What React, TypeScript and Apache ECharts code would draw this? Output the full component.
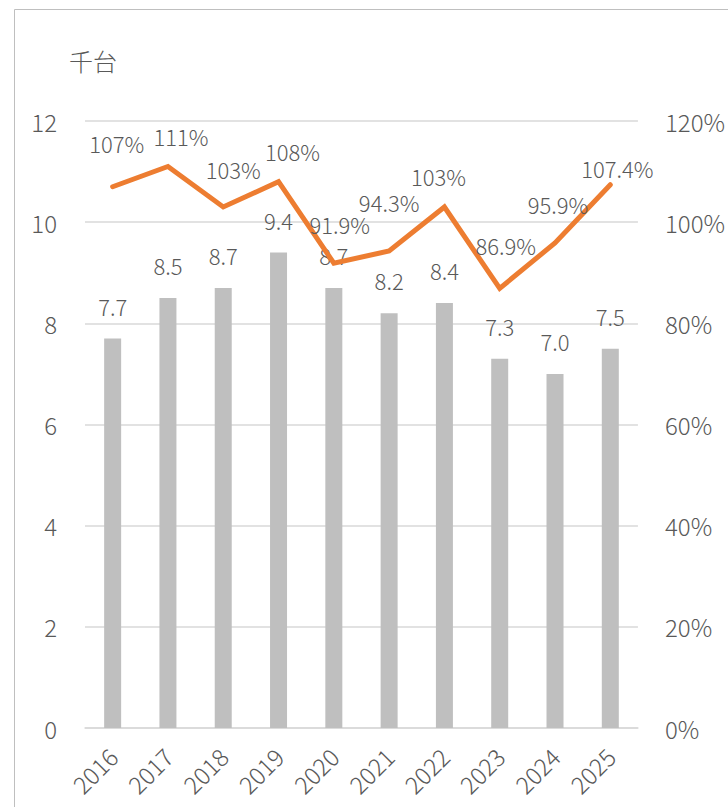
import React, { useEffect, useRef } from "react";
import * as echarts from "echarts";

const years = ["2016", "2017", "2018", "2019", "2020", "2021", "2022", "2023", "2024", "2025"];
const units = [7.7, 8.5, 8.7, 9.4, 8.7, 8.2, 8.4, 7.3, 7.0, 7.5];
const ratio = [107, 111, 103, 108, 91.9, 94.3, 103, 86.9, 95.9, 107.4];
const ratioLabels = ["107%", "111%", "103%", "108%", "91.9%", "94.3%", "103%", "86.9%", "95.9%", "107.4%"];
const ratioLabelOffsets: [number, number][] = [
  [4, -44], [13, -31], [10, -38], [14, -31], [6, -39],
  [0, -49], [-6, -31], [6, -43], [3, -39], [7, -17],
];
const leftTicks = [0, 12, 2];
const rightTicks = [0, 120, 20];
const unitLabel = "千台";

const FONT = "'Noto Sans CJK JP', 'Noto Sans', sans-serif";
const TEXT = "#595959";
const W = 300;

export default function App() {
  const ref = useRef<HTMLDivElement>(null);
  useEffect(() => {
    if (!ref.current) return;
    const chart = echarts.init(ref.current, undefined, { renderer: "svg" });
    chart.setOption({
      animation: false,
      textStyle: { fontFamily: FONT, fontWeight: W },
      grid: { left: 85, right: 90, top: 121, bottom: 79, containLabel: false },
      graphic: [
        {
          type: "rect",
          shape: { x: 14.5, y: 9.5, width: 900, height: 900 },
          style: { fill: "none", stroke: "#BFBFBF", lineWidth: 1 },
          silent: true,
        },
        {
          type: "text",
          x: 69,
          y: 48,
          style: { text: unitLabel, fontSize: 24, fill: TEXT, fontFamily: FONT, fontWeight: W },
        },
      ],
      xAxis: {
        type: "category",
        data: years,
        axisTick: { show: false },
        axisLine: { lineStyle: { color: "#D9D9D9", width: 1.5 } },
        axisLabel: { rotate: 45, fontSize: 24, color: TEXT, margin: 24, fontFamily: FONT, fontWeight: W },
      },
      yAxis: [
        {
          type: "value",
          min: leftTicks[0],
          max: leftTicks[1],
          interval: leftTicks[2],
          axisLine: { show: false },
          axisTick: { show: false },
          axisLabel: { fontSize: 24, color: TEXT, margin: 28, fontFamily: FONT, fontWeight: W },
          splitLine: { lineStyle: { color: "#D9D9D9", width: 1.5 } },
        },
        {
          type: "value",
          min: rightTicks[0],
          max: rightTicks[1],
          interval: rightTicks[2],
          axisLine: { show: false },
          axisTick: { show: false },
          splitLine: { show: false },
          axisLabel: { fontSize: 24, color: TEXT, margin: 27, formatter: "{value}%", fontFamily: FONT, fontWeight: W },
        },
      ],
      series: [
        {
          type: "bar",
          data: units,
          barWidth: 17,
          itemStyle: { color: "#BFBFBF" },
          label: {
            show: true,
            position: "top",
            distance: 22,
            fontSize: 22,
            color: TEXT,
            fontFamily: FONT,
            fontWeight: W,
            formatter: (p: any) => Number(p.value).toFixed(1),
          },
        },
        {
          type: "line",
          yAxisIndex: 1,
          data: ratio.map((v, i) => ({
            value: v,
            label: { offset: ratioLabelOffsets[i] },
          })),
          symbol: "circle",
          symbolSize: 1,
          itemStyle: { color: "#ED7D31" },
          lineStyle: { color: "#ED7D31", width: 5, cap: "round", join: "miter" },
          label: {
            show: true,
            position: "inside",
            fontSize: 22,
            color: TEXT,
            fontFamily: FONT,
            fontWeight: W,
            formatter: (p: any) => ratioLabels[p.dataIndex],
          },
        },
      ],
    });
    return () => chart.dispose();
  }, []);
  return (
    <div
      ref={ref}
      style={{ position: "fixed", left: 0, top: 0, width: 728, height: 807, background: "#fff" }}
    />
  );
}
